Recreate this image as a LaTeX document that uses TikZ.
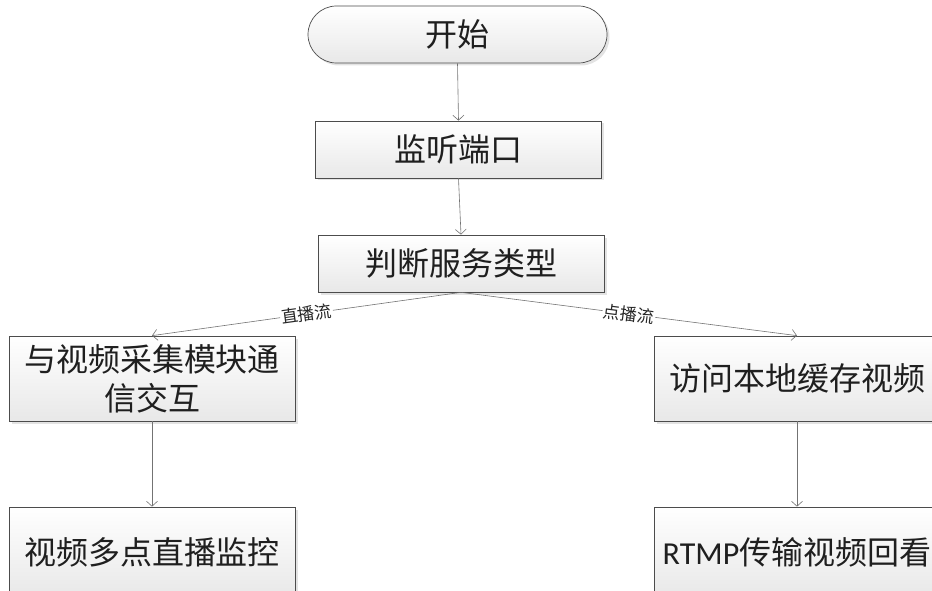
\documentclass[tikz,border=0pt]{standalone}
\usepackage{fontspec}
\newfontfamily\cjk{Noto Sans CJK SC}
\newfontfamily\lat{Carlito}
\usetikzlibrary{arrows.meta,shadows,shapes.misc}

\tikzset{
  boxbase/.style={draw=black!70, line width=0.7pt,
    top color=white, bottom color=black!9,
    drop shadow={shadow xshift=2.5pt, shadow yshift=-2.5pt, fill=black!22},
    inner sep=0pt, text=black!88,
    font=\cjk\fontsize{32pt}{39pt}\selectfont, align=center},
  procbox/.style={boxbase, rectangle, minimum width=286pt, minimum height=#1},
  procbox/.default=57pt,
  termbox/.style={boxbase, rounded rectangle, minimum width=299pt, minimum height=57pt},
  conn/.style={draw=black!55, line width=0.6pt, -{Straight Barb[length=5pt,width=11pt]}},
  edgelabel/.style={midway, sloped, fill=white, inner sep=1pt, text=black!85,
    font=\cjk\fontsize{17pt}{19pt}\selectfont}
}

\begin{document}
\begin{tikzpicture}[x=1pt,y=-1pt]
  \useasboundingbox (0,0) rectangle (932,591);
  \clip (0,0) rectangle (932,591);

  % flow nodes
  \node[termbox] (start) at (457.5,34.5) {开始};
  \node[procbox] (listen) at (458.5,149.5) {监听端口};
  \node[procbox] (judge) at (461,263.5) {判断服务类型};
  \node[procbox=85pt] (live) at (152,378.5) {与视频采集模块通\\信交互};
  \node[procbox=85pt] (vod) at (797,378.5) {访问本地缓存视频};
  \node[procbox=90pt] (mon) at (152,552) {视频多点直播监控};
  \node[procbox=90pt] (back) at (797,552) {{\lat RTMP}传输视频回看};

  % connectors
  \draw[conn] (start.south) -- (listen.north);
  \draw[conn] (listen.south) -- (judge.north);
  \draw[conn] (judge.south) -- node[edgelabel] {直播流} (live.north);
  \draw[conn] (judge.south) -- node[edgelabel] {点播流} (vod.north);
  \draw[conn] (live.south) -- (mon.north);
  \draw[conn] (vod.south) -- (back.north);
\end{tikzpicture}
\end{document}
